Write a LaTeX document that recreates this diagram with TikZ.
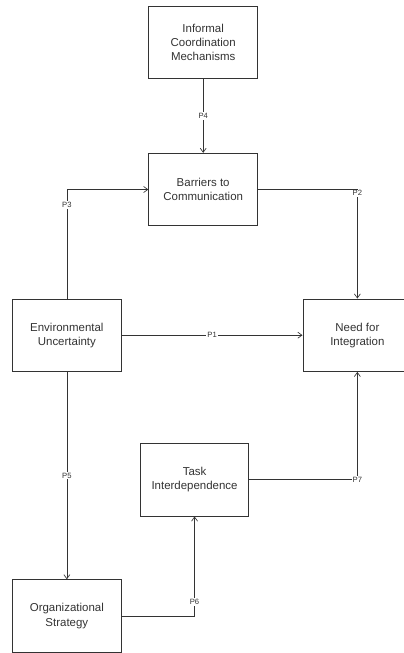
\documentclass[tikz,border=0pt]{standalone}
\usepackage{fontspec}
\setmainfont{Liberation Sans}
\usetikzlibrary{arrows.meta,positioning,calc}
\definecolor{ink}{HTML}{333333}
\tikzset{
  box/.style={draw=ink, line width=0.7pt, align=center, minimum width=2.9cm,
              minimum height=1.93cm, text=ink, inner sep=2pt,
              font=\fontsize{8.7}{10.75}\selectfont},
  prop/.style={fill=white, inner sep=0.8pt, text=ink,
               font=\fontsize{5.8}{6}\selectfont},
  link/.style={-{Straight Barb[length=1.1mm, width=1.6mm]}, draw=ink, line width=0.5pt},
}

\begin{document}
\begin{tikzpicture}
  % Constructs
  \node[box] (env) {Environmental\\ Uncertainty};
  \node[box, right=4.82cm of env] (need) {Need for\\ Integration};
  \node[box, above right=1.93cm and 0.71cm of env] (barr) {Barriers to\\ Communication};
  \node[box, above=1.96cm of barr] (info) {Informal\\ Coordination\\ Mechanisms};
  \node[box, below right=1.9cm and 0.48cm of env] (task) {Task\\ Interdependence};
  \node[box, below=5.53cm of env] (org) {Organizational\\ Strategy};
  % Propositions
  \draw[link] (env) -- node[prop] {P1} (need);
  \draw[link] (barr) -| node[prop, yshift=-0.1cm] {P2} (need);
  \draw[link] (env.north) |- node[prop, pos=0.43] {P3} (barr);
  \draw[link] (info) -- node[prop] {P4} (barr);
  \draw[link] (env) -- node[prop] {P5} (org);
  \draw[link] (org) -| node[prop, pos=0.57] {P6} (task);
  \draw[link] (task) -| node[prop] {P7} (need);
  % page = reference frame, need box cut at the right
  \pgfresetboundingbox
  \path[use as bounding box] ($(env.west |- info.north)+(-0.32,0.16)$) rectangle ($(need.center |- org.south)+(1.24,-0.01)$);
\end{tikzpicture}
\end{document}
